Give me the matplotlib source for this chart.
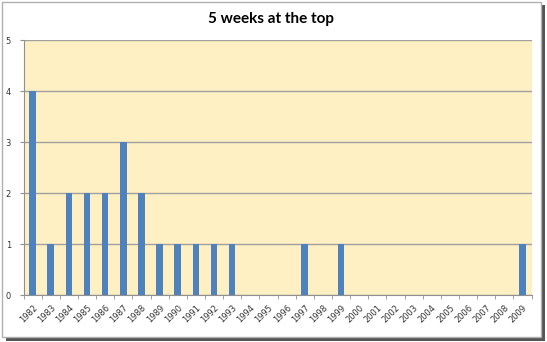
import numpy as np
import matplotlib.pyplot as plt
from matplotlib.patches import Rectangle

# Data
years = [str(y) for y in range(1982, 2010)]
weeks = [4, 1, 2, 2, 2, 3, 2, 1, 1, 1, 1, 1, 0, 0, 0, 1, 0, 1,
         0, 0, 0, 0, 0, 0, 0, 0, 0, 1]
yticks = [0, 1, 2, 3, 4, 5]

fig = plt.figure(figsize=(5.47, 3.42), dpi=100)

# Chart frame with drop shadow
fig.patches.append(Rectangle((0.011, 0.003), 0.985, 0.982, transform=fig.transFigure,
                             facecolor='#555555', edgecolor='none', zorder=-2))
fig.patches.append(Rectangle((0.004, 0.015), 0.985, 0.979, transform=fig.transFigure,
                             facecolor='white', edgecolor='#B0B0B0', linewidth=1, zorder=-1))

ax = fig.add_axes([0.043, 0.1374, 0.9287, 0.7456])
ax.set_facecolor('#FFF0C4')

x = np.arange(len(years))
ax.bar(x, weeks, width=0.36, color='#4F81BD', zorder=3)

ax.set_xlim(-0.5, len(years) - 0.5)
ax.set_ylim(0, 5)
ax.set_yticks(yticks)
ax.yaxis.grid(True, color='#A0A0A0', linewidth=1, zorder=1)
ax.set_axisbelow(True)

ax.set_xticks(x)
ax.set_xticklabels(years, rotation=45, ha='right', va='top', rotation_mode='anchor',
                   fontsize=6, color='#333333')
ax.set_xticks(np.arange(-0.5, len(years), 1), minor=True)
ax.tick_params(axis='x', which='major', length=0, pad=6)
ax.tick_params(axis='x', which='minor', length=3, color='#909090')
ax.tick_params(axis='y', length=3, color='#909090', labelsize=6, labelcolor='#333333', pad=6)

for s in ['top', 'right']:
    ax.spines[s].set_visible(False)
for s in ['left', 'bottom']:
    ax.spines[s].set_color('#909090')

fig.text(0.496, 0.944, '5 weeks at the top', ha='center', va='center',
         fontsize=11, fontweight='bold', family=['Lato', 'DejaVu Sans'])

fig.savefig('out.png', dpi=100)
